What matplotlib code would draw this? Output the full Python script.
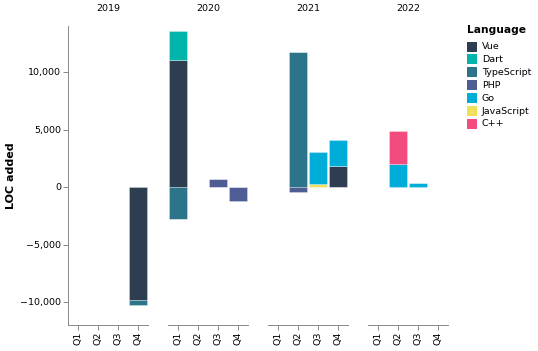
import matplotlib
matplotlib.use('Agg')
import matplotlib.pyplot as plt
from matplotlib.patches import Rectangle
from matplotlib.ticker import FuncFormatter
import numpy as np

# ── data ──────────────────────────────────────────────
years = ['2019', '2020', '2021', '2022']
quarters = ['Q1', 'Q2', 'Q3', 'Q4']
languages = ['Vue', 'Dart', 'TypeScript', 'PHP', 'Go', 'JavaScript', 'C++']
lang_colors = ['#2c3e50', '#00b4ab', '#2b7489', '#4f5d95', '#00add8', '#f1e05a', '#f34b7d']

# LOC added per quarter, 2019 Q1 .. 2022 Q4
vue        = [0, 0, 0, -9850,   11050, 0, 0, 0,       0, 0, 0, 1800,      0, 0, 0, 0]
dart       = [0, 0, 0, 0,       2550, 0, 0, 0,        0, 0, 0, 0,         0, 0, 0, 0]
typescript = [0, 0, 0, -450,    -2800, 0, 0, 0,       0, 11700, 0, 0,     0, 0, 0, 0]
php        = [0, 0, 0, 0,       0, 0, 700, -1200,     0, -450, 0, 0,      0, 0, 0, 0]
go         = [0, 0, 0, 0,       0, 0, 0, 0,           0, 0, 2760, 2250,   0, 1970, 350, 0]
javascript = [0, 0, 0, 0,       0, 0, 0, 0,           0, 0, 260, 0,       0, 0, 0, 0]
cpp        = [0, 0, 0, 0,       0, 0, 0, 0,           0, 0, 0, 0,         0, 2900, 0, 0]

series = {
    'Vue': vue, 'Dart': dart, 'TypeScript': typescript, 'PHP': php,
    'Go': go, 'JavaScript': javascript, 'C++': cpp,
}
# order in which segments are stacked away from zero
stack_order = ['Vue', 'JavaScript', 'TypeScript', 'PHP', 'Go', 'Dart', 'C++']
color_of = dict(zip(languages, lang_colors))

# ── layout (pixels) ───────────────────────────────────
W, H = 538, 351
DPI = 100
AXIS_GRAY = '#888888'
FS = 6.8

fig = plt.figure(figsize=(W / DPI, H / DPI), dpi=DPI)
plt.rcParams['font.family'] = 'DejaVu Sans'

def px_box(x0, y_top, w, h):
    return [x0 / W, (H - y_top - h) / H, w / W, h / H]

fmt = FuncFormatter(lambda v, p: f'{int(v):,}'.replace('-', '\u2212'))

for i, year in enumerate(years):
    ax = fig.add_axes(px_box(68 + 100 * i, 26, 80, 299))
    pos = np.zeros(4)
    neg = np.zeros(4)
    x = np.arange(4)
    for lang in stack_order:
        vals = np.array(series[lang][4 * i:4 * i + 4], dtype=float)
        up = np.where(vals > 0, vals, 0)
        dn = np.where(vals < 0, vals, 0)
        if up.any():
            ax.bar(x, up, bottom=pos, width=0.9, color=color_of[lang],
                   edgecolor=(1, 1, 1, 0.5), linewidth=0.4)
        if dn.any():
            ax.bar(x, dn, bottom=neg, width=0.9, color=color_of[lang],
                   edgecolor=(1, 1, 1, 0.5), linewidth=0.4)
        pos += up
        neg += dn

    ax.set_xlim(-0.5, 3.5)
    ax.set_ylim(-12000, 14000)
    ax.set_xticks(x)
    ax.set_xticklabels(quarters, rotation=90, fontsize=FS)
    ax.tick_params(axis='x', length=3.6, width=0.7, color=AXIS_GRAY, pad=1.2)
    for s in ['top', 'right']:
        ax.spines[s].set_visible(False)
    ax.spines['bottom'].set_color(AXIS_GRAY)
    ax.spines['bottom'].set_linewidth(0.7)
    if i == 0:
        ax.set_yticks([-10000, -5000, 0, 5000, 10000])
        ax.yaxis.set_major_formatter(fmt)
        ax.tick_params(axis='y', length=3.6, width=0.7, color=AXIS_GRAY,
                       labelsize=FS, pad=1.5)
        ax.spines['left'].set_color(AXIS_GRAY)
        ax.spines['left'].set_linewidth(0.7)
        ax.set_ylabel('LOC added', fontsize=8, fontweight='bold', labelpad=3)
    else:
        ax.spines['left'].set_visible(False)
        ax.set_yticks([])
    ax.set_title(year, fontsize=FS, pad=11)

# ── legend ────────────────────────────────────────────
fig.text(467 / W, 1 - 30 / H, 'Language', fontsize=7.7, fontweight='bold',
         va='center', ha='left')
for k, lang in enumerate(languages):
    yc = 46.5 + 12.9 * k
    fig.patches.append(Rectangle((467 / W, 1 - (yc + 5) / H), 10 / W, 10 / H,
                                 transform=fig.transFigure,
                                 facecolor=color_of[lang], edgecolor='none'))
    fig.text(482 / W, 1 - yc / H, lang, fontsize=FS, va='center', ha='left')

fig.savefig('out.png', dpi=DPI)
